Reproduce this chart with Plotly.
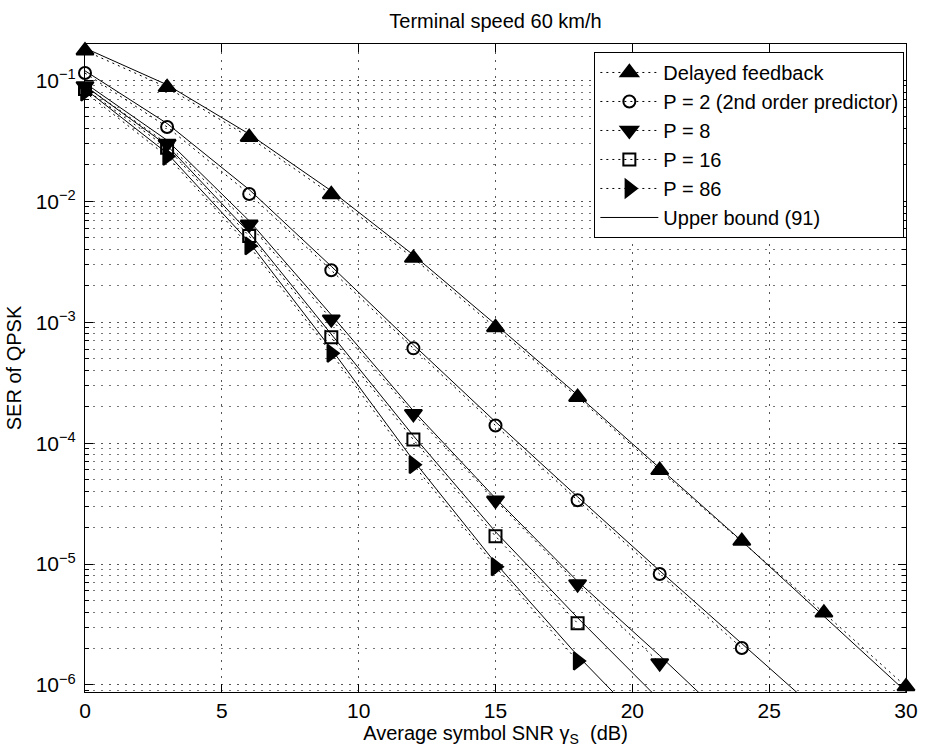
import plotly.graph_objects as go

# ---------------- data ----------------
snr_db = [0, 3, 6, 9, 12, 15, 18, 21, 24, 27, 30]

ser_delayed = [0.176, 0.0876, 0.0339, 0.0114, 3.39e-3, 9.06e-4, 2.40e-4, 5.97e-5, 1.55e-5, 3.95e-6, 9.7e-7]
ser_p2 = [0.115, 0.0412, 0.0115, 2.69e-3, 6.08e-4, 1.40e-4, 3.37e-5, 8.28e-6, 2.02e-6]
ser_p8 = [0.090, 0.030, 6.45e-3, 1.06e-3, 1.75e-4, 3.37e-5, 6.84e-6, 1.52e-6]
ser_p16 = [0.085, 0.0277, 5.16e-3, 7.5e-4, 1.07e-4, 1.70e-5, 3.24e-6]
ser_p86 = [0.080, 0.0236, 4.28e-3, 5.53e-4, 6.64e-5, 9.5e-6, 1.58e-6]

bound_delayed = [0.185, 0.092, 0.036, 0.0122, 3.6e-3, 9.6e-4, 2.5e-4, 6.2e-5, 1.55e-5, 3.7e-6, 8.8e-7]
bound_p2 = [0.120, 0.044, 0.0125, 2.9e-3, 6.5e-4, 1.5e-4, 3.6e-5, 8.8e-6, 2.2e-6, 5.5e-7]
bound_p8 = [0.095, 0.032, 6.9e-3, 1.15e-3, 1.85e-4, 3.5e-5, 7.2e-6, 1.75e-6, 4.0e-7]
bound_p16 = [0.090, 0.029, 5.5e-3, 8.0e-4, 1.15e-4, 1.85e-5, 3.6e-6, 7.5e-7]
bound_p86 = [0.085, 0.025, 4.6e-3, 6.0e-4, 7.2e-5, 1.02e-5, 1.75e-6, 3.5e-7]

series_names = ["Delayed feedback", "P = 2 (2nd order predictor)", "P = 8", "P = 16", "P = 86"]
bound_name = "Upper bound (91)"

x_ticks = [0, 5, 10, 15, 20, 25, 30]
y_ticks = [1e-6, 1e-5, 1e-4, 1e-3, 1e-2, 1e-1]
y_ticktext = ["10<sup>\u22126</sup>", "10<sup>\u22125</sup>", "10<sup>\u22124</sup>",
              "10<sup>\u22123</sup>", "10<sup>\u22122</sup>", "10<sup>\u22121</sup>"]

# ---------------- figure ----------------
FONT = "Liberation Sans, Arial, Helvetica, sans-serif"
sim_series = [ser_delayed, ser_p2, ser_p8, ser_p16, ser_p86]
bounds = [bound_delayed, bound_p2, bound_p8, bound_p16, bound_p86]
symbols = ["triangle-up", "circle-open", "triangle-down", "square-open", "triangle-right"]
sizes = [15, 12, 15, 12, 15]

fig = go.Figure()
for name, vals, sym, sz in zip(series_names, sim_series, symbols, sizes):
    fig.add_trace(go.Scatter(
        x=snr_db[:len(vals)], y=vals, name=name, mode="lines+markers",
        line=dict(color="black", width=1, dash="2px,4px"),
        marker=dict(symbol=sym, size=sz, color="black", line=dict(color="black", width=2)),
        cliponaxis=False,
    ))

for i, vals in enumerate(bounds):
    fig.add_trace(go.Scatter(
        x=snr_db[:len(vals)], y=vals, name=bound_name, mode="lines",
        line=dict(color="black", width=1),
        showlegend=(i == 0),
    ))

minor_vals = [m * 10.0 ** e for e in range(-7, 0) for m in range(2, 10)]

fig.update_layout(
    width=930, height=756,
    margin=dict(l=85, r=15, t=44, b=64),
    plot_bgcolor="white", paper_bgcolor="white",
    font=dict(family=FONT, size=20, color="black"),
    title=dict(text="Terminal speed 60 km/h", x=0.5, xref="paper", xanchor="center",
               y=1 - 21 / 756, yref="container", yanchor="middle",
               font=dict(family=FONT, size=20, color="black")),
    legend=dict(x=0.998, y=0.9877, xanchor="right", yanchor="top",
                bgcolor="white", bordercolor="black", borderwidth=1,
                font=dict(family=FONT, size=20, color="black"),
                itemwidth=58, tracegroupgap=0),
    showlegend=True,
)

fig.update_xaxes(
    range=[0, 30], tickvals=x_ticks, ticks="inside", ticklen=8, tickcolor="black",
    showline=True, linecolor="black", linewidth=1, mirror="ticks",
    showgrid=True, gridcolor="#555555", griddash="2px,6px", gridwidth=1,
    zeroline=False, tickfont=dict(size=21),
    title=dict(text="Average symbol SNR \u03b3<sub>S</sub>  (dB)", standoff=4,
               font=dict(size=20)),
)

fig.update_yaxes(
    type="log", range=[-6.058, -0.699], tickvals=y_ticks, ticktext=y_ticktext,
    ticks="inside", ticklen=8, tickcolor="black",
    showline=True, linecolor="black", linewidth=1, mirror="ticks",
    showgrid=True, gridcolor="#555555", griddash="2px,6px", gridwidth=1,
    zeroline=False, tickfont=dict(size=21), ticklabelstandoff=4,
    minor=dict(tickvals=minor_vals, ticks="inside", ticklen=4, tickcolor="black",
               showgrid=True, gridcolor="#777777", griddash="2px,6px", gridwidth=1),
    title=dict(text="SER of QPSK", standoff=8, font=dict(size=20)),
)

fig.write_html("out.html")
